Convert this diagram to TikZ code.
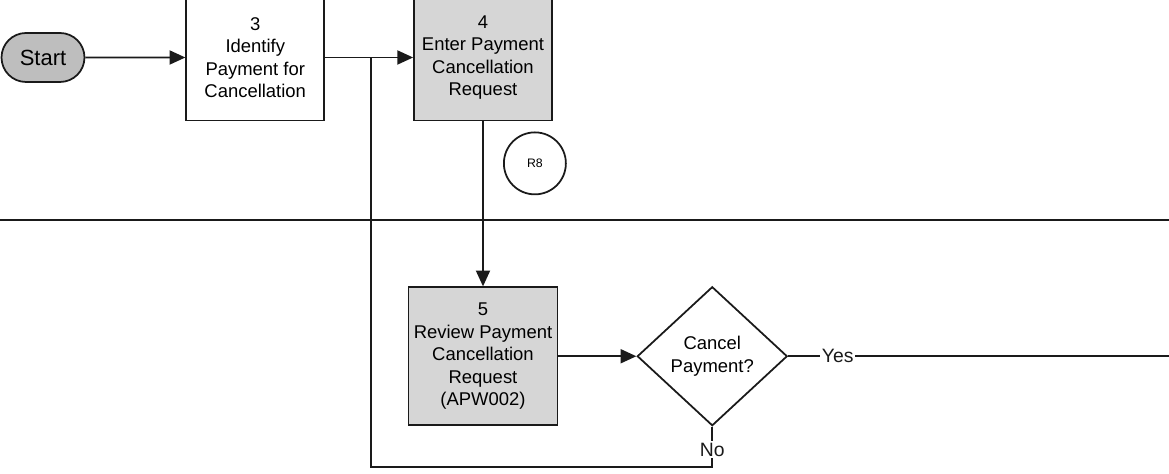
\documentclass[tikz,border=0pt]{standalone}
\usepackage{fontspec}
\setmainfont{Liberation Sans}
\usetikzlibrary{arrows.meta, positioning, shapes.geometric, shapes.misc, calc}
\definecolor{flowGray}{HTML}{D6D6D6}
\definecolor{startGray}{HTML}{BEBEBE}
\definecolor{lineDark}{HTML}{1A1A1A}
\tikzset{
  arrowK/.style={-{Triangle[length=9pt, width=8pt]}, lineDark, line width=1pt},
  lineK/.style={lineDark, line width=1pt},
  boxW/.style={rectangle, draw=lineDark, line width=1pt, fill=white,
               align=center, font=\fontsize{10.5}{12.8}\selectfont, inner sep=2pt,
               minimum width=2.76cm, minimum height=2.52cm},
  boxG/.style={boxW, fill=flowGray},
  pill/.style={rounded rectangle, draw=lineDark, line width=1pt, fill=startGray,
               font=\fontsize{12.5}{14}\selectfont, inner sep=2pt,
               minimum width=1.8cm, minimum height=0.98cm},
  decision/.style={diamond, draw=lineDark, line width=1pt, fill=white,
                   align=center, font=\fontsize{10.5}{12.8}\selectfont, inner sep=0pt,
                   minimum width=3cm, minimum height=2.78cm},
  refCircle/.style={circle, draw=lineDark, line width=1pt, minimum size=1.24cm,
                    inner sep=0pt, font=\fontsize{7}{8}\selectfont},
  lbl/.style={fill=white, inner sep=1pt, font=\fontsize{11}{13}\selectfont},
}
\begin{document}
\begin{tikzpicture}[node distance=1.76cm and 2.02cm, font=\fontsize{10.5}{12.8}\selectfont]
    \useasboundingbox (0,0) rectangle (23.38,9.48);
    \node[pill] (start) at (0.86,8.33) {Start};
    \node[boxW, right=2.0cm of start] (identify) {3\\Identify\\Payment for\\Cancellation};
    \node[boxG, right=1.76cm of identify] (enter) {4\\Enter Payment\\Cancellation\\Request};
    \node[refCircle] (r8) at ([xshift=-0.36cm, yshift=-0.84cm]enter.south east) {R8};
    \node[boxG, below=3.3cm of enter, minimum width=2.98cm, minimum height=2.76cm] (review)
          {5\\Review Payment\\Cancellation\\Request\\(APW002)};
    \node[decision, right=1.56cm of review] (cancel) {Cancel\\Payment?};
    \coordinate (jn) at ($(identify.east)!0.52!(enter.west)$);
    \coordinate (laneL) at (0,5.08);
    \coordinate (laneR) at (23.38,5.08);
    \coordinate (edge) at (23.38,0);
    \draw[lineK] (laneL) -- (laneR);
    \draw[arrowK] (start) -- (identify);
    \draw[arrowK] (identify) -- (enter);
    \draw[arrowK] (enter) -- (review);
    \draw[arrowK] (review) -- (cancel);
    \draw[lineK] (cancel.east) -- node[lbl, pos=0.13] {Yes} (cancel.east -| edge);
    \draw[lineK] (cancel.south) -- node[lbl, pos=0.58] {No} ++(0,-0.8) coordinate (nobot)
          -- (nobot -| jn) -- (jn);
  \end{tikzpicture}
\end{document}
